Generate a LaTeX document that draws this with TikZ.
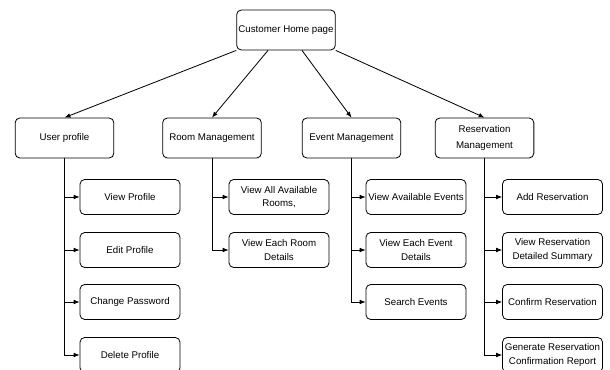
\documentclass[tikz,border=0pt]{standalone}
\usepackage{fontspec}
\setmainfont{Liberation Sans}
\usetikzlibrary{arrows.meta}

\begin{document}
\begin{tikzpicture}[x=0.03cm,y=-0.03cm,line width=0.7pt,
    box/.style={draw,rounded corners=4pt,fill=white,align=center,inner sep=1pt,
      font=\fontsize{8.3}{11.5}\selectfont},
    topbox/.style={box,minimum width=2.96cm,minimum height=1.2cm},
    subbox/.style={box,minimum width=3cm,minimum height=1.05cm},
    link/.style={-{Latex[length=5pt,width=4pt]}}]

  \useasboundingbox (0,0) rectangle (610,370);

  % The root page
  \node[topbox] (home) at (286,30) {Customer Home page};

  % The four modules
  \node[topbox] (profile) at (64.5,138) {User profile};
  \node[topbox] (room)    at (212,138)  {Room Management};
  \node[topbox] (event)   at (351.5,138) {Event Management};
  \node[topbox,font=\fontsize{8.3}{13}\selectfont] (reserve) at (484.5,138) {Reservation\\Management};

  \draw[link] (home.south west) -- (profile.north);
  \draw[link] ([xshift=-0.54cm]home.south) -- (room.north);
  \draw[link] ([xshift=0.48cm]home.south) -- (event.north);
  \draw[link] (home.south east) -- (reserve.north);

  % User profile
  \node[subbox] (viewprof) at (130,197) {View Profile};
  \node[subbox] (editprof) at (130,250) {Edit Profile};
  \node[subbox] (changepw) at (130,302) {Change Password};
  \node[subbox] (delprof)  at (130,355) {Delete Profile};
  \foreach \n in {viewprof,editprof,changepw,delprof}
    \draw[link] (profile.south) |- (\n.west);

  % Room management
  \node[subbox] (allrooms) at (279,197) {View All Available\\Rooms,};
  \node[subbox] (eachroom) at (279,250) {View Each Room\\Details};
  \foreach \n in {allrooms,eachroom}
    \draw[link] (room.south) |- (\n.west);

  % Event management
  \node[subbox] (availev)  at (416,197) {View Available Events};
  \node[subbox] (eachev)   at (416,250) {View Each Event\\Details};
  \node[subbox] (searchev) at (416,302) {Search Events};
  \foreach \n in {availev,eachev,searchev}
    \draw[link] (event.south) |- (\n.west);

  % Reservation management
  \node[subbox] (addres)    at (552.5,197) {Add Reservation};
  \node[subbox] (summary)   at (552.5,250) {View Reservation\\Detailed Summary};
  \node[subbox] (confirm)   at (552.5,302) {Confirm Reservation};
  \node[subbox] (genreport) at (552.5,355) {Generate Reservation\\Confirmation Report};
  \foreach \n in {addres,summary,confirm,genreport}
    \draw[link] (reserve.south) |- (\n.west);

\end{tikzpicture}
\end{document}
